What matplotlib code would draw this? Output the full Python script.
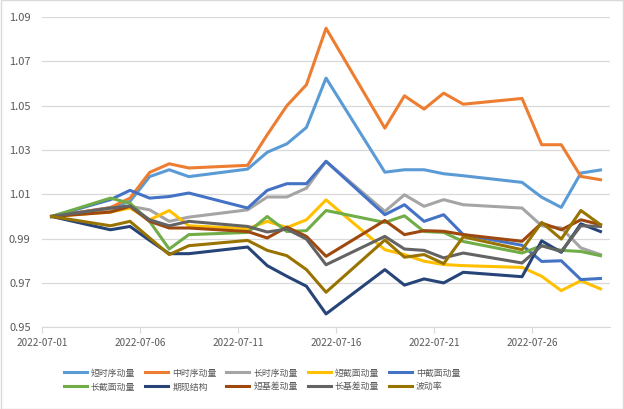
import numpy as np
import pandas as pd
import matplotlib
matplotlib.use("Agg")
import matplotlib.pyplot as plt

plt.rcParams['font.family'] = ['Noto Sans CJK SC', 'DejaVu Sans']

dates = pd.to_datetime([
    '2022-07-01', '2022-07-04', '2022-07-05', '2022-07-06', '2022-07-07', '2022-07-08',
    '2022-07-11', '2022-07-12', '2022-07-13', '2022-07-14', '2022-07-15',
    '2022-07-18', '2022-07-19', '2022-07-20', '2022-07-21', '2022-07-22',
    '2022-07-25', '2022-07-26', '2022-07-27', '2022-07-28', '2022-07-29'])

names = ['短时序动量', '中时序动量', '长时序动量', '短截面动量', '中截面动量',
         '长截面动量', '期现结构', '短基差动量', '长基差动量', '波动率']

short_ts = [1.000, 1.004, 1.0068, 1.018, 1.0211, 1.018, 1.0214, 1.029, 1.0328, 1.0402, 1.0625,
            1.020, 1.0211, 1.0211, 1.0193, 1.0184, 1.0154, 1.0087, 1.0041, 1.0196, 1.021]
mid_ts = [1.000, 1.004, 1.0083, 1.0199, 1.0238, 1.0219, 1.0231, 1.0369, 1.050, 1.0595, 1.085,
          1.0399, 1.0545, 1.0485, 1.0557, 1.0507, 1.0533, 1.0324, 1.0324, 1.0181, 1.0166]
long_ts = [1.000, 1.003, 1.0046, 1.003, 0.9978, 0.9997, 1.003, 1.0088, 1.0088, 1.0128, 1.0249,
           1.0023, 1.0098, 1.0046, 1.0076, 1.0053, 1.0038, 0.9958, 0.9948, 0.9858, 0.9828]
short_cs = [1.000, 1.002, 1.0038, 0.9985, 1.0027, 0.9958, 0.9945, 0.9978, 0.995, 0.9985, 1.0075,
            0.985, 0.9828, 0.9798, 0.9783, 0.9778, 0.977, 0.973, 0.9665, 0.971, 0.9673]
mid_cs = [1.000, 1.0076, 1.0118, 1.0083, 1.009, 1.0106, 1.0038, 1.0118, 1.0148, 1.0148, 1.0249,
          1.0008, 1.0053, 0.9978, 1.0008, 0.9918, 0.987, 0.9797, 0.980, 0.9715, 0.972]
long_cs = [1.000, 1.0083, 1.006, 0.9978, 0.9853, 0.9918, 0.9928, 1.000, 0.9932, 0.9936, 1.0027,
           0.9973, 1.0003, 0.9932, 0.9928, 0.9887, 0.9835, 0.9868, 0.9847, 0.9842, 0.9823]
basis_term = [1.000, 0.994, 0.9955, 0.9892, 0.9832, 0.9832, 0.9862, 0.9778, 0.973, 0.9685, 0.956,
              0.976, 0.969, 0.9718, 0.970, 0.9748, 0.9728, 0.989, 0.9838, 0.9967, 0.9932]
short_basis = [1.000, 1.002, 1.0046, 0.9978, 0.9948, 0.9948, 0.9932, 0.9903, 0.9952, 0.991, 0.982,
               0.9982, 0.9918, 0.9936, 0.9933, 0.9918, 0.9888, 0.997, 0.994, 0.9985, 0.9963]
long_basis = [1.000, 1.0038, 1.0048, 0.9985, 0.9958, 0.9978, 0.9955, 0.993, 0.9943, 0.9898, 0.9782,
              0.991, 0.9853, 0.9847, 0.9813, 0.9835, 0.979, 0.9868, 0.9842, 0.9958, 0.9955]
volatility = [1.000, 0.9958, 0.9978, 0.9903, 0.9828, 0.9868, 0.9892, 0.9847, 0.9823, 0.976, 0.9658,
              0.9894, 0.9816, 0.9828, 0.9787, 0.9908, 0.985, 0.9973, 0.9898, 1.0027, 0.9963]

series = [short_ts, mid_ts, long_ts, short_cs, mid_cs,
          long_cs, basis_term, short_basis, long_basis, volatility]
colors = ['#5B9BD5', '#ED7D31', '#A5A5A5', '#FFC000', '#4472C4',
          '#70AD47', '#264478', '#9E480E', '#636363', '#997300']

fig = plt.figure(figsize=(6.24, 4.09), dpi=100)
ax = fig.add_axes([0.067, 0.2, 0.911, 0.758])

for vals, name, c in zip(series, names, colors):
    ax.plot(dates, vals, color=c, lw=2.2, label=name, solid_joinstyle='round')

# excel date axis: each day's point sits in the middle of its slot
half = pd.Timedelta(hours=12)
ax.set_xlim(dates[0] - half, dates[-1] + half)
tick_dates = pd.date_range('2022-07-01', '2022-07-26', freq='5D')
ax.set_xticks(tick_dates - half)
ax.set_xticklabels([d.strftime('%Y-%m-%d') for d in tick_dates])

ax.set_ylim(0.95, 1.09)
yt = np.arange(0.95, 1.0901, 0.02)
ax.set_yticks(yt)
ax.set_yticklabels(['%.2f' % v for v in yt])

ax.grid(axis='y', color='#D9D9D9', lw=0.9)
ax.set_axisbelow(True)
for s in ['top', 'right', 'left']:
    ax.spines[s].set_visible(False)
ax.spines['bottom'].set_color('#D9D9D9')
ax.tick_params(axis='y', length=0, labelsize=8, colors='#595959', pad=8)
ax.tick_params(axis='x', length=4, color='#D9D9D9', labelsize=7.2, labelcolor='#595959', pad=4)

h, l = ax.get_legend_handles_labels()
order = [0, 5, 1, 6, 2, 7, 3, 8, 4, 9]
fig.legend([h[i] for i in order], [l[i] for i in order], ncol=5, loc='center',
           bbox_to_anchor=(0.42, 0.071), frameon=False, fontsize=6.4,
           handlelength=2.6, handletextpad=0.45, columnspacing=1.1, labelspacing=0.55,
           labelcolor='#595959')

fig.patches.append(plt.Rectangle((0.001, 0.001), 0.998, 0.998, transform=fig.transFigure,
                                 fill=False, edgecolor='#D9D9D9', lw=1))

fig.savefig('out.png', dpi=100)
